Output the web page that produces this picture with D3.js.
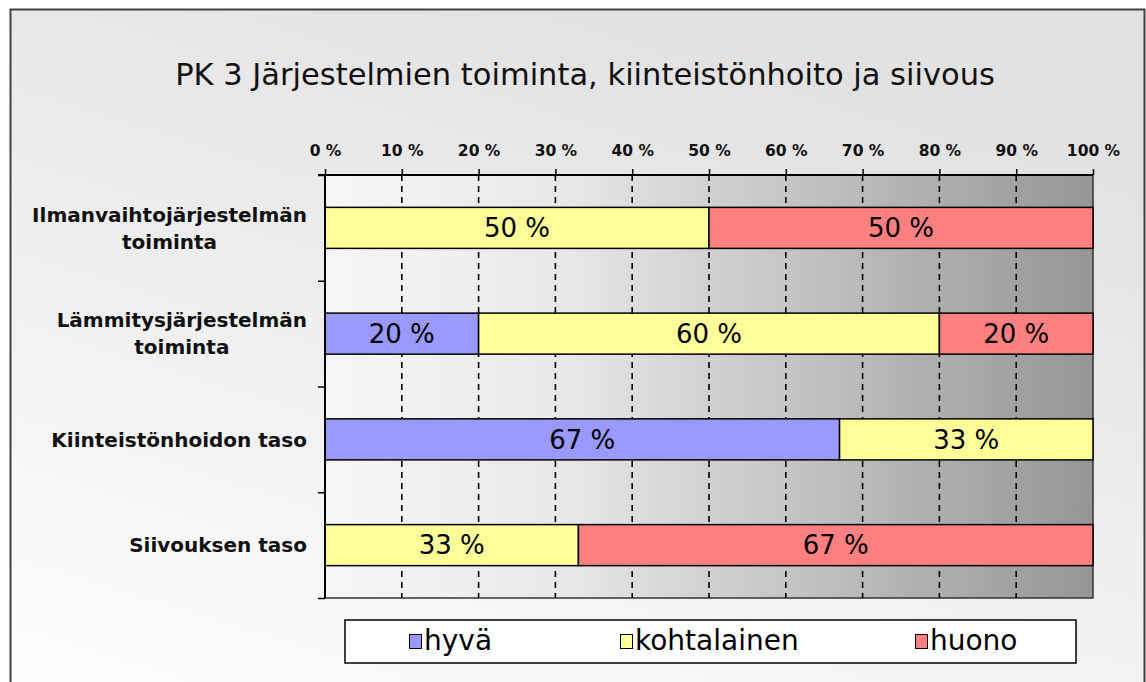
<!DOCTYPE html>
<html>
<head>
<meta charset="utf-8">
<script src="https://cdn.jsdelivr.net/npm/d3@7"></script>
<style>
  body { margin: 0; background: #fff; }
  svg { display: block; font-family: "DejaVu Sans", Verdana, sans-serif; }
</style>
</head>
<body>
<svg id="chart" width="1146" height="682"></svg>
<script>
const categories = [
  "Ilmanvaihtojärjestelmän\ntoiminta",
  "Lämmitysjärjestelmän\ntoiminta",
  "Kiinteistönhoidon taso",
  "Siivouksen taso"
]
const seriesNames = ["hyvä", "kohtalainen", "huono"]
const hyva = [0, 20, 67, 0]
const kohtalainen = [50, 60, 33, 33]
const huono = [50, 20, 0, 67]
const xTicks = [0, 10, 20, 30, 40, 50, 60, 70, 80, 90, 100]
const colors = ["#9999ff", "#ffff99", "#ff8080"]

const title = "PK 3 Järjestelmien toiminta, kiinteistönhoito ja siivous"

const rows = categories.map((c, i) => ({
  category: c,
  "hyvä": hyva[i],
  "kohtalainen": kohtalainen[i],
  "huono": huono[i]
}))

const svg = d3.select("#chart")
const defs = svg.append("defs")

// chart area background
const bg = defs.append("linearGradient").attr("id", "bgGrad")
  .attr("x1", 0).attr("y1", 1).attr("x2", 0.5).attr("y2", 0)
bg.append("stop").attr("offset", 0).attr("stop-color", "#fefefe")
bg.append("stop").attr("offset", 1).attr("stop-color", "#e2e2e2")

const plotGrad = defs.append("linearGradient").attr("id", "plotGrad")
  .attr("x1", 0).attr("y1", 0).attr("x2", 1).attr("y2", 0)
plotGrad.append("stop").attr("offset", 0).attr("stop-color", "#f6f6f6")
plotGrad.append("stop").attr("offset", 0.3).attr("stop-color", "#e9e9e9")
plotGrad.append("stop").attr("offset", 1).attr("stop-color", "#959595")

svg.append("rect")
  .attr("x", 10.5).attr("y", 9.5)
  .attr("width", 1134).attr("height", 700)
  .attr("fill", "url(#bgGrad)")
  .attr("stroke", "#404040")
  .attr("stroke-width", 2)

svg.append("text")
  .attr("x", 585).attr("y", 85)
  .attr("text-anchor", "middle")
  .attr("font-size", 30.5)
  .attr("fill", "#111")
  .text(title)

const margin = { top: 175, left: 325 }
const width = 768
const height = 423

const g = svg.append("g")
  .attr("transform", `translate(${margin.left},${margin.top})`)

const x = d3.scaleLinear().domain([0, 100]).range([0, width])
const y = d3.scaleBand().domain(categories).range([0, height])
  .paddingInner(0.612).paddingOuter(0.306)
const yEdges = d3.scaleLinear().domain([0, categories.length]).range([0, height])

g.append("rect")
  .attr("width", width).attr("height", height)
  .attr("fill", "url(#plotGrad)")
  .attr("stroke", "#333")
  .attr("stroke-width", 1.5)

// dashed gridlines
g.append("g")
  .selectAll("line")
  .data(xTicks.slice(1, -1))
  .join("line")
  .attr("x1", d => x(d)).attr("x2", d => x(d))
  .attr("y1", 0).attr("y2", height)
  .attr("stroke", "#000")
  .attr("stroke-width", 1.6)
  .attr("stroke-dasharray", "6,5")

// bars
const stack = d3.stack().keys(seriesNames)
const layers = stack(rows)

const layer = g.selectAll(".layer")
  .data(layers)
  .join("g")
  .attr("class", "layer")
  .attr("fill", (d, i) => colors[i])

layer.selectAll("rect")
  .data(d => d.filter(s => s[1] - s[0] > 0))
  .join("rect")
  .attr("x", d => x(d[0]))
  .attr("y", d => y(d.data.category))
  .attr("width", d => x(d[1]) - x(d[0]))
  .attr("height", y.bandwidth())
  .attr("stroke", "#000")
  .attr("stroke-width", 1.5)

layer.selectAll("text")
  .data(d => d.filter(s => s[1] - s[0] > 0))
  .join("text")
  .attr("x", d => (x(d[0]) + x(d[1])) / 2)
  .attr("y", d => y(d.data.category) + y.bandwidth() / 2)
  .attr("dy", "0.36em")
  .attr("text-anchor", "middle")
  .attr("font-size", 26)
  .attr("fill", "#000")
  .text(d => `${Math.round(d[1] - d[0])} %`)

// top axis
const xAxis = g.append("g")
  .call(d3.axisTop(x).tickValues(xTicks).tickSize(6).tickPadding(13)
    .tickFormat(d => `${d} %`))
xAxis.select(".domain").remove()
xAxis.selectAll(".tick line").attr("stroke", "#000").attr("stroke-width", 1.5)
xAxis.selectAll("text")
  .attr("font-size", 15.5)
  .attr("font-weight", "bold")
  .attr("fill", "#111")
  .attr("font-family", "DejaVu Sans, sans-serif")

// left axis with ticks at category edges
const yAxis = g.append("g")
  .call(d3.axisLeft(yEdges).tickValues(d3.range(categories.length + 1))
    .tickSize(7).tickFormat(""))
yAxis.select(".domain").remove()
yAxis.selectAll(".tick line").attr("stroke", "#000").attr("stroke-width", 1.5)

g.append("line")
  .attr("x1", -7).attr("x2", width).attr("y1", 0).attr("y2", 0)
  .attr("stroke", "#000").attr("stroke-width", 2)
g.append("line")
  .attr("x1", 0).attr("x2", 0).attr("y1", 0).attr("y2", height)
  .attr("stroke", "#000").attr("stroke-width", 2)

// category labels
const labelRight = 307 - margin.left
const catLabels = g.append("g")
  .selectAll("text")
  .data(categories)
  .join("text")
  .attr("font-size", 20)
  .attr("font-weight", "bold")
  .attr("fill", "#111")
  .attr("text-anchor", "middle")

catLabels.each(function (d) {
  const lines = d.split("\n")
  const t = d3.select(this)
  const lineH = 27
  const cy = y(d) + y.bandwidth() / 2
  lines.forEach((l, i) => {
    t.append("tspan")
      .attr("y", cy + (i - (lines.length - 1) / 2) * lineH)
      .attr("dy", "0.36em")
      .text(l)
  })
  const maxW = d3.max(t.selectAll("tspan").nodes(), n => n.getComputedTextLength())
  t.selectAll("tspan").attr("x", labelRight - maxW / 2)
})

// legend
const legend = svg.append("g").attr("transform", "translate(345,620)")
legend.append("rect")
  .attr("width", 731).attr("height", 43)
  .attr("fill", "#fff")
  .attr("stroke", "#000")
  .attr("stroke-width", 1.5)

const legendX = [64, 275, 570]
const item = legend.selectAll(".item")
  .data(seriesNames)
  .join("g")
  .attr("class", "item")
  .attr("transform", (d, i) => `translate(${legendX[i]},0)`)

item.append("rect")
  .attr("x", 0.5).attr("y", 14.5)
  .attr("width", 12).attr("height", 14)
  .attr("fill", (d, i) => colors[i])
  .attr("stroke", "#000")
  .attr("stroke-width", 1)

item.append("text")
  .attr("x", 15).attr("y", 30)
  .attr("font-size", 28)
  .attr("fill", "#000")
  .text(d => d)
</script>
</body>
</html>
